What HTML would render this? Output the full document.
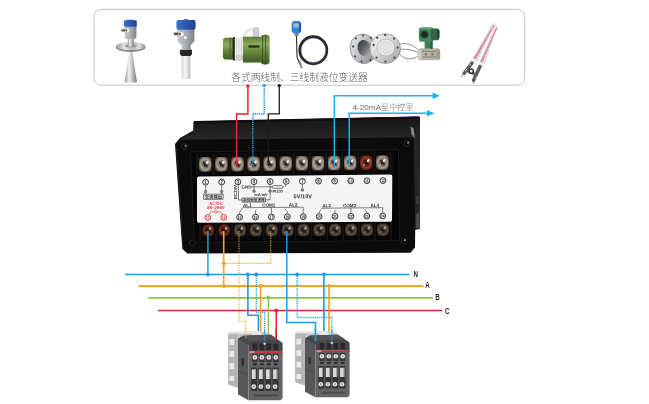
<!DOCTYPE html>
<html lang="zh"><head><meta charset="utf-8"><title>液位变送器接线图</title>
<style>
html,body{margin:0;padding:0;background:#fff;}
body{width:649px;height:404px;overflow:hidden;font-family:"Liberation Sans","Noto Sans CJK SC",sans-serif;}
svg{display:block;will-change:transform;}
text{font-family:"Liberation Sans","Noto Sans CJK SC",sans-serif;}
</style></head><body>
<svg width="649" height="404" viewBox="0 0 649 404">
<defs>
<linearGradient id="silv" x1="0" x2="1" y1="0" y2="0"><stop offset="0" stop-color="#8e9094"/><stop offset="0.35" stop-color="#f2f2f4"/><stop offset="0.6" stop-color="#c4c6ca"/><stop offset="1" stop-color="#77797d"/></linearGradient>
<linearGradient id="hous" x1="0" x2="1" y1="0" y2="0"><stop offset="0" stop-color="#c3c6cb"/><stop offset="0.5" stop-color="#a9adb3"/><stop offset="1" stop-color="#7f8389"/></linearGradient>
<linearGradient id="bluecap" x1="0" x2="1" y1="0" y2="0"><stop offset="0" stop-color="#3f74c8"/><stop offset="0.5" stop-color="#2a58b0"/><stop offset="1" stop-color="#1f4390"/></linearGradient>
<linearGradient id="grn" x1="0" x2="0" y1="0" y2="1"><stop offset="0" stop-color="#5d7f3a"/><stop offset="0.3" stop-color="#8bab5a"/><stop offset="0.6" stop-color="#64883c"/><stop offset="1" stop-color="#3f5c25"/></linearGradient>
<linearGradient id="rod" x1="0" x2="1" y1="0" y2="0"><stop offset="0" stop-color="#d0d0d0"/><stop offset="0.4" stop-color="#fafafa"/><stop offset="1" stop-color="#bdbdbd"/></linearGradient>
<linearGradient id="flA" x1="0" x2="1" y1="0" y2="1"><stop offset="0" stop-color="#f2f2f3"/><stop offset="0.45" stop-color="#bfc1c4"/><stop offset="1" stop-color="#85878b"/></linearGradient>
<linearGradient id="flB" x1="0" x2="1" y1="0" y2="1"><stop offset="0" stop-color="#f6f6f7"/><stop offset="0.5" stop-color="#d2d4d6"/><stop offset="1" stop-color="#9c9ea2"/></linearGradient>
<linearGradient id="flD" x1="0" x2="0.6" y1="0" y2="1"><stop offset="0" stop-color="#2e3034"/><stop offset="0.6" stop-color="#66686c"/><stop offset="1" stop-color="#a4a6aa"/></linearGradient>
<linearGradient id="flgt" x1="0" x2="1" y1="0" y2="0"><stop offset="0" stop-color="#9a9ca0"/><stop offset="0.3" stop-color="#e6e7e8"/><stop offset="0.55" stop-color="#b4b6b9"/><stop offset="0.8" stop-color="#dcdddf"/><stop offset="1" stop-color="#8e9094"/></linearGradient>
<radialGradient id="fl1" cx="0.4" cy="0.4" r="0.7"><stop offset="0" stop-color="#f4f4f4"/><stop offset="0.6" stop-color="#bfc1c4"/><stop offset="1" stop-color="#7d7f83"/></radialGradient>
<radialGradient id="term" cx="0.5" cy="0.5" r="0.62"><stop offset="0" stop-color="#3a322c"/><stop offset="0.3" stop-color="#6a6058"/><stop offset="0.6" stop-color="#aaa296"/><stop offset="0.82" stop-color="#6a5e54"/><stop offset="1" stop-color="#2a221e"/></radialGradient>
<radialGradient id="termd" cx="0.5" cy="0.5" r="0.62"><stop offset="0" stop-color="#1e1814"/><stop offset="0.3" stop-color="#342c26"/><stop offset="0.6" stop-color="#5a4e44"/><stop offset="0.8" stop-color="#342a24"/><stop offset="1" stop-color="#140f0c"/></radialGradient>
<radialGradient id="termr" cx="0.5" cy="0.5" r="0.62"><stop offset="0" stop-color="#3a140e"/><stop offset="0.35" stop-color="#782014"/><stop offset="0.6" stop-color="#964034"/><stop offset="0.8" stop-color="#501a12"/><stop offset="1" stop-color="#200c08"/></radialGradient>
<radialGradient id="termrd" cx="0.5" cy="0.5" r="0.62"><stop offset="0" stop-color="#240e0a"/><stop offset="0.35" stop-color="#521610"/><stop offset="0.6" stop-color="#742c22"/><stop offset="0.8" stop-color="#34100c"/><stop offset="1" stop-color="#160806"/></radialGradient>
<linearGradient id="topface" x1="0" x2="0" y1="0" y2="1"><stop offset="0" stop-color="#161616"/><stop offset="1" stop-color="#262626"/></linearGradient>
</defs>

<rect x="94" y="9.3" width="430.6" height="75.9" rx="7" ry="7" fill="#fff" stroke="#c4c4c4" stroke-width="1"/>
<g id="s1">
<path d="M129.2,50 L132.4,50 Q134,66 136.9,81 Q137,82.6 135.4,82.6 L126,82.6 Q124.4,82.6 124.6,81 Q127.6,66 129.2,50 Z" fill="url(#silv)"/>
<ellipse cx="130.7" cy="47.2" rx="14.9" ry="4.7" fill="#7e8084"/>
<ellipse cx="130.7" cy="46.2" rx="14.7" ry="4.1" fill="url(#flgt)"/>
<ellipse cx="130.7" cy="46" rx="6" ry="1.6" fill="#9a9ca0"/>
<rect x="127.8" y="38" width="6" height="8.4" fill="url(#silv)"/>
<path d="M124.8,26 H136.4 V37 L135,39 H126 L124.8,37.6 Z" fill="url(#hous)"/>
<rect x="126.4" y="19.7" width="7.8" height="1.4" rx="0.6" fill="#2c56a8"/>
<rect x="123.8" y="20.2" width="13" height="6.6" rx="1.4" fill="url(#bluecap)"/>
<rect x="121.4" y="29.2" width="3.8" height="2.4" rx="0.6" fill="#6b5238"/>
<circle cx="127.6" cy="30.6" r="1.8" fill="#f4f4f4"/><circle cx="126.4" cy="30.4" r="0.8" fill="#3a3a3a"/>
</g>
<g id="s2">
<rect x="181.6" y="54.6" width="8.8" height="24.4" rx="1.2" fill="url(#rod)"/>
<path d="M179.9,49.8 H192 V54 L190.6,56 H181.4 L179.9,54 Z" fill="#26282a"/>
<rect x="181.6" y="44" width="9" height="6" fill="url(#hous)"/>
<path d="M177.6,29 L194.4,29 L194.4,41 L191,45 L181.4,45 L177.6,41.6 Z" fill="url(#hous)"/>
<rect x="183.4" y="19.3" width="5.2" height="1.6" rx="0.6" fill="#2c56a8"/>
<rect x="176.4" y="20" width="19.2" height="9.8" rx="2" fill="url(#bluecap)"/>
<rect x="173.8" y="32.6" width="4.6" height="2.6" rx="0.6" fill="#6b5238"/>
<circle cx="181.6" cy="34.2" r="2.1" fill="#f4f4f4"/><circle cx="180" cy="34" r="0.9" fill="#3a3a3a"/>
<circle cx="185.4" cy="37.6" r="1.5" fill="#f0f0f0"/>
</g>
<g id="s3">
<path d="M242.4,40 C245.5,30.5 250,28.4 254.6,30.4" fill="none" stroke="#c9c9c9" stroke-width="2.6"/>
<path d="M242.4,40 C245.5,30.5 250,28.4 254.6,30.4" fill="none" stroke="#f4f4f4" stroke-width="1.6"/>
<path d="M253.2,29 L254.2,27.6 H257.8 L258.8,29 V36.4 H253.2 Z" fill="#cfcfcf" stroke="#a8a8a8" stroke-width="0.4"/>
<rect x="222.9" y="37.7" width="10.5" height="21.8" rx="3" fill="url(#grn)"/>
<rect x="229.4" y="37.4" width="2" height="22.6" fill="#4a6a2c" opacity="0.7"/>
<rect x="232.6" y="37.2" width="2.6" height="23.2" fill="#1c2216"/>
<rect x="234.8" y="37.4" width="9" height="23.4" rx="1.8" fill="#f3f3f3"/>
<path d="M236.6,38 V60.4 M238.9,38 V60.4 M241.2,38 V60.4" stroke="#bdbdbd" stroke-width="0.7"/>
<rect x="234.8" y="55" width="9" height="5.8" rx="1.8" fill="#bdbdbd" opacity="0.5"/>
<rect x="242.9" y="36.7" width="20" height="25.8" fill="url(#grn)"/>
<rect x="260.8" y="34.8" width="8.8" height="29.7" rx="3.4" fill="url(#grn)"/>
<path d="M262.6,35.4 V64 M265.6,35 V64.2" stroke="#2c4218" stroke-width="0.9" opacity="0.75"/>
<rect x="248.4" y="45.3" width="11.2" height="2.4" fill="#2a381c"/>
</g>
<g id="s4">
<ellipse cx="313.3" cy="50.2" rx="13.6" ry="13.6" fill="none" stroke="#23262e" stroke-width="2.7"/>
<ellipse cx="313.6" cy="50.6" rx="12.4" ry="12.6" fill="none" stroke="#5a5e68" stroke-width="0.5"/>
<path d="M296.4,33 L297,57 L300.6,66" fill="none" stroke="#2a2c32" stroke-width="1.1"/>
<path d="M299.4,60.6 L301.8,68.4" stroke="#8a8c90" stroke-width="1.9"/>
<path d="M294.2,33.2 h4.6 v2.6 h-4.6 z" fill="#8a8c90"/>
<path d="M293.4,21 H299.6 L301.2,23.4 V31 L299.4,33.6 H293.6 L291.6,31 V23.4 Z" fill="#2f86d8"/>
<path d="M298.8,21.4 L300.9,23.6 V30.8 L299,33.2 Z" fill="#1c5ca8"/>
<rect x="293.4" y="23.4" width="5.4" height="4.2" rx="0.5" fill="#a9bccb"/>
</g>
<g id="s5">
<path d="M398,45.5 C404,41.5 412,44 418.5,50 M399,53 C404,61 414,60 419,55 M397,50 C405,48 412,50 418.5,52.5" fill="none" stroke="#8e9094" stroke-width="1"/>
<ellipse cx="363.3" cy="48.8" rx="13.2" ry="14.9" fill="url(#flA)" stroke="#86888c" stroke-width="0.7" transform="rotate(-14 363.3 48.8)"/>
<ellipse cx="364.2" cy="48.2" rx="6.6" ry="8.4" fill="url(#flD)" transform="rotate(-14 364.2 48.2)"/>
<ellipse cx="353.2" cy="46.5" rx="0.9" ry="1.2" fill="#3e4044"/>
<ellipse cx="355.8" cy="38.4" rx="0.9" ry="1.2" fill="#3e4044"/>
<ellipse cx="363" cy="35.6" rx="0.9" ry="1.2" fill="#3e4044"/>
<ellipse cx="355.2" cy="56.4" rx="0.9" ry="1.2" fill="#3e4044"/>
<ellipse cx="361.6" cy="61.4" rx="0.9" ry="1.2" fill="#3e4044"/>
<ellipse cx="370.4" cy="60" rx="0.9" ry="1.2" fill="#3e4044"/>
<ellipse cx="371" cy="37.8" rx="0.9" ry="1.2" fill="#3e4044"/>
<ellipse cx="385.2" cy="48.7" rx="15.3" ry="14.9" fill="url(#flB)" stroke="#8a8c90" stroke-width="0.7"/>
<ellipse cx="385.9" cy="47.6" rx="8.8" ry="8.5" fill="#ededee" stroke="#a9abae" stroke-width="0.7"/>
<ellipse cx="385.9" cy="47.6" rx="6.4" ry="6.2" fill="#e2e3e4" stroke="#c4c6c8" stroke-width="0.5"/>
<circle cx="373.6" cy="45" r="1.15" fill="#47494c"/>
<circle cx="377.2" cy="37.8" r="1.15" fill="#47494c"/>
<circle cx="385.2" cy="35" r="1.15" fill="#47494c"/>
<circle cx="394" cy="38.6" r="1.15" fill="#47494c"/>
<circle cx="397.6" cy="47.6" r="1.15" fill="#47494c"/>
<circle cx="394.4" cy="57.6" r="1.15" fill="#47494c"/>
<circle cx="385.4" cy="61.6" r="1.15" fill="#47494c"/>
<circle cx="376.4" cy="57.6" r="1.15" fill="#47494c"/>
<rect x="418.6" y="48.2" width="20.6" height="12" rx="1.5" fill="#b9b2a4"/>
<rect x="417.6" y="49.4" width="4" height="9.8" rx="1" fill="#d0cbc0"/>
<rect x="436.2" y="49.4" width="4" height="9.8" rx="1" fill="#a39c8e"/>
<path d="M422,51.4 H436 M422,57 H436" stroke="#857e70" stroke-width="0.9"/>
<circle cx="426" cy="54.2" r="1.2" fill="#7a7468"/><circle cx="432.4" cy="54.2" r="1.2" fill="#7a7468"/>
<rect x="424.6" y="40" width="8" height="8.6" fill="#43805a"/>
<rect x="430.4" y="41" width="2.2" height="7.6" fill="#2e5e40"/>
<rect x="418.8" y="27.2" width="15" height="14.6" rx="3.4" fill="#468a5c"/>
<rect x="430.8" y="28.6" width="8.6" height="11.6" rx="2.2" fill="#2f6644"/>
<rect x="436.8" y="30" width="2.6" height="8" rx="1" fill="#1f4430"/>
<circle cx="424.4" cy="34.4" r="4.4" fill="#2c5c40"/>
<circle cx="424.4" cy="34.4" r="2.9" fill="#15291f"/>
<path d="M420.6,28.6 H431" stroke="#7ab08a" stroke-width="0.9"/>
</g>
<g id="s6">
<polygon points="492.6,23 495.2,23.8 476.4,63.6 471,61.4" fill="#d7e1e1"/>
<polygon points="493.6,25 494.6,25.4 475,60.5 472.8,59.6" fill="#e2708a"/>
<polygon points="495.6,25 498,26 483.6,67.2 478.4,65.2" fill="#d7e1e1"/>
<polygon points="496.4,27.5 497.4,27.9 481.8,63.8 479.8,63" fill="#e2708a"/>
<path d="M493,28 L473.5,61 M496.6,30 L480.6,64.6" stroke="#fbfbfb" stroke-width="0.9" stroke-dasharray="0.9 1.6" fill="none"/>
<polygon points="472.4,58 477.4,60.2 476,64.6 470.6,62.4" fill="#e9eeee"/>
<polygon points="479.6,61.6 484.8,63.6 483.4,68 478,66" fill="#e9eeee"/>
<path d="M472,63 L464,73.5 M480,66.5 L473.5,80.5" stroke="#54595c" stroke-width="3.4" stroke-linecap="round"/>
<path d="M466,70 L477.5,75.5" stroke="#63686b" stroke-width="3"/>
<circle cx="471.2" cy="71.2" r="2.1" fill="#fafafa" stroke="#2e3234" stroke-width="1.5"/>
<path d="M465,71 l2.2,-1.8 M475,78.6 l2,-1.8 M469.5,65.5 l1.6,-1.2" stroke="#d0d4d6" stroke-width="0.9"/>
<path d="M461,76.6 l1.4,-1.2 M473.4,83.6 l0.8,-1.2" stroke="#3a58c0" stroke-width="1"/>
</g>
<text x="231.2" y="81" font-size="9.75" font-weight="300" fill="#5a5a5a">各式两线制、三线制液位变送器</text>
<g id="meter">
<path d="M194.6,121 Q193.4,121.2 193.4,123 L193.3,130.4 L180,138 L175,144 L182.3,248.8 L187.3,253.6 L410.5,252.8 L415,247.6 L415.2,229.5 L419.6,229 L420,117.4 Q420,116.3 418.8,116.4 Z" fill="#0b0b0b"/>
<path d="M194.6,121.4 L418.6,116.6 L419.4,118 L413,136.6 L181,139 L193.5,130.6 Z" fill="url(#topface)"/>
<path d="M194,121.6 L418,116.8 L418,118.6 L194,123.6 Z" fill="#0e0e0e"/>
<path d="M413.6,136 L419.6,118.5 L419.6,229 L415.2,229.6 Z" fill="#242424"/>
<path d="M410.6,126.5 L413.6,128.6 L414.8,138.4 L411.6,134.4 Z" fill="#8a8a8a"/>
<rect x="415.8" y="213.5" width="3.4" height="14.5" fill="#4a4a4a"/>
<rect x="415.8" y="196" width="3.4" height="8" fill="#383838"/>
<path d="M181,139.2 L413,136.8" stroke="#2e2e2e" stroke-width="0.9"/>
<path d="M176.2,145 L183.2,248" stroke="#1e1e1e" stroke-width="1"/>
<path d="M190.5,151.8 L398.5,149.6 L399.5,240.6 L194.5,242.4 Z" fill="#050505" stroke="#1f1f1f" stroke-width="0.8"/>
<circle cx="184.4" cy="146.4" r="2.8" fill="#000" stroke="#303030" stroke-width="0.9"/>
<circle cx="185.6" cy="145.7" r="0.9" fill="#b8b8b8"/>
<circle cx="406.9" cy="143.4" r="2.8" fill="#000" stroke="#303030" stroke-width="0.9"/>
<circle cx="408.1" cy="142.7" r="0.9" fill="#b8b8b8"/>
<circle cx="192.4" cy="242.8" r="2.8" fill="#000" stroke="#303030" stroke-width="0.9"/>
<circle cx="403.6" cy="240.9" r="2.8" fill="#000" stroke="#303030" stroke-width="0.9"/>
<circle cx="404.8" cy="240.2" r="0.9" fill="#b8b8b8"/>
<path d="M195.5,153 L394,150.8 L394,173.5 L195.5,175.5 Z" fill="#0a0a0a"/>
<rect x="199.0" y="157.1" width="12.6" height="14.6" rx="2.2" fill="url(#term)"/>
<path d="M202.9,161.8 L207.7,167.0 M207.5,162.2 L203.1,166.8" stroke="#1c1612" stroke-width="1.3" opacity="0.8"/>
<ellipse cx="207.2" cy="162.5" rx="1.3" ry="1.7" fill="#fff" opacity="0.85" transform="rotate(35 207.2 162.5)"/>
<ellipse cx="203.1" cy="166.6" rx="0.9" ry="1.3" fill="#e8dccc" opacity="0.55" transform="rotate(35 203.1 166.6)"/>
<rect x="215.1" y="156.9" width="12.6" height="14.6" rx="2.2" fill="url(#term)"/>
<path d="M219.0,161.6 L223.8,166.8 M223.6,162.0 L219.2,166.6" stroke="#1c1612" stroke-width="1.3" opacity="0.8"/>
<ellipse cx="223.3" cy="162.3" rx="1.3" ry="1.7" fill="#fff" opacity="0.85" transform="rotate(35 223.3 162.3)"/>
<ellipse cx="219.2" cy="166.4" rx="0.9" ry="1.3" fill="#e8dccc" opacity="0.55" transform="rotate(35 219.2 166.4)"/>
<rect x="231.2" y="156.8" width="12.6" height="14.6" rx="2.2" fill="url(#term)"/>
<path d="M235.1,161.5 L239.9,166.7 M239.7,161.9 L235.3,166.5" stroke="#1c1612" stroke-width="1.3" opacity="0.8"/>
<ellipse cx="239.4" cy="162.2" rx="1.3" ry="1.7" fill="#fff" opacity="0.85" transform="rotate(35 239.4 162.2)"/>
<ellipse cx="235.3" cy="166.3" rx="0.9" ry="1.3" fill="#e8dccc" opacity="0.55" transform="rotate(35 235.3 166.3)"/>
<rect x="247.3" y="156.6" width="12.6" height="14.6" rx="2.2" fill="url(#term)"/>
<path d="M251.2,161.3 L256.0,166.5 M255.8,161.7 L251.4,166.3" stroke="#1c1612" stroke-width="1.3" opacity="0.8"/>
<ellipse cx="255.5" cy="162.0" rx="1.3" ry="1.7" fill="#fff" opacity="0.85" transform="rotate(35 255.5 162.0)"/>
<ellipse cx="251.4" cy="166.1" rx="0.9" ry="1.3" fill="#e8dccc" opacity="0.55" transform="rotate(35 251.4 166.1)"/>
<rect x="263.4" y="156.4" width="12.6" height="14.6" rx="2.2" fill="url(#term)"/>
<path d="M267.3,161.1 L272.1,166.3 M271.9,161.5 L267.5,166.1" stroke="#1c1612" stroke-width="1.3" opacity="0.8"/>
<ellipse cx="271.6" cy="161.8" rx="1.3" ry="1.7" fill="#fff" opacity="0.85" transform="rotate(35 271.6 161.8)"/>
<ellipse cx="267.5" cy="165.9" rx="0.9" ry="1.3" fill="#e8dccc" opacity="0.55" transform="rotate(35 267.5 165.9)"/>
<rect x="279.5" y="156.2" width="12.6" height="14.6" rx="2.2" fill="url(#term)"/>
<path d="M283.4,160.9 L288.2,166.1 M288.0,161.3 L283.6,165.9" stroke="#1c1612" stroke-width="1.3" opacity="0.8"/>
<ellipse cx="287.7" cy="161.6" rx="1.3" ry="1.7" fill="#fff" opacity="0.85" transform="rotate(35 287.7 161.6)"/>
<ellipse cx="283.6" cy="165.7" rx="0.9" ry="1.3" fill="#e8dccc" opacity="0.55" transform="rotate(35 283.6 165.7)"/>
<rect x="295.6" y="156.0" width="12.6" height="14.6" rx="2.2" fill="url(#term)"/>
<path d="M299.5,160.7 L304.3,165.9 M304.1,161.1 L299.7,165.7" stroke="#1c1612" stroke-width="1.3" opacity="0.8"/>
<ellipse cx="303.8" cy="161.4" rx="1.3" ry="1.7" fill="#fff" opacity="0.85" transform="rotate(35 303.8 161.4)"/>
<ellipse cx="299.7" cy="165.5" rx="0.9" ry="1.3" fill="#e8dccc" opacity="0.55" transform="rotate(35 299.7 165.5)"/>
<rect x="311.7" y="155.9" width="12.6" height="14.6" rx="2.2" fill="url(#term)"/>
<path d="M315.6,160.6 L320.4,165.8 M320.2,161.0 L315.8,165.6" stroke="#1c1612" stroke-width="1.3" opacity="0.8"/>
<ellipse cx="319.9" cy="161.3" rx="1.3" ry="1.7" fill="#fff" opacity="0.85" transform="rotate(35 319.9 161.3)"/>
<ellipse cx="315.8" cy="165.4" rx="0.9" ry="1.3" fill="#e8dccc" opacity="0.55" transform="rotate(35 315.8 165.4)"/>
<rect x="327.8" y="155.7" width="12.6" height="14.6" rx="2.2" fill="url(#term)"/>
<path d="M331.7,160.4 L336.5,165.6 M336.3,160.8 L331.9,165.4" stroke="#1c1612" stroke-width="1.3" opacity="0.8"/>
<ellipse cx="336.0" cy="161.1" rx="1.3" ry="1.7" fill="#fff" opacity="0.85" transform="rotate(35 336.0 161.1)"/>
<ellipse cx="331.9" cy="165.2" rx="0.9" ry="1.3" fill="#e8dccc" opacity="0.55" transform="rotate(35 331.9 165.2)"/>
<rect x="343.9" y="155.5" width="12.6" height="14.6" rx="2.2" fill="url(#term)"/>
<path d="M347.8,160.2 L352.6,165.4 M352.4,160.6 L348.0,165.2" stroke="#1c1612" stroke-width="1.3" opacity="0.8"/>
<ellipse cx="352.1" cy="160.9" rx="1.3" ry="1.7" fill="#fff" opacity="0.85" transform="rotate(35 352.1 160.9)"/>
<ellipse cx="348.0" cy="165.0" rx="0.9" ry="1.3" fill="#e8dccc" opacity="0.55" transform="rotate(35 348.0 165.0)"/>
<rect x="360.0" y="155.3" width="12.6" height="14.6" rx="2.2" fill="url(#termr)"/>
<path d="M363.9,160.0 L368.7,165.2 M368.5,160.4 L364.1,165.0" stroke="#1c1612" stroke-width="1.3" opacity="0.8"/>
<ellipse cx="368.2" cy="160.7" rx="1.3" ry="1.7" fill="#fff" opacity="0.85" transform="rotate(35 368.2 160.7)"/>
<ellipse cx="364.1" cy="164.8" rx="0.9" ry="1.3" fill="#e8dccc" opacity="0.55" transform="rotate(35 364.1 164.8)"/>
<rect x="376.1" y="155.2" width="12.6" height="14.6" rx="2.2" fill="url(#term)"/>
<path d="M380.0,159.9 L384.8,165.1 M384.6,160.3 L380.2,164.9" stroke="#1c1612" stroke-width="1.3" opacity="0.8"/>
<ellipse cx="384.3" cy="160.6" rx="1.3" ry="1.7" fill="#fff" opacity="0.85" transform="rotate(35 384.3 160.6)"/>
<ellipse cx="380.2" cy="164.7" rx="0.9" ry="1.3" fill="#e8dccc" opacity="0.55" transform="rotate(35 380.2 164.7)"/>
<rect x="196.2" y="154.2" width="2" height="20.5" fill="#151515"/>
<rect x="212.3" y="154.0" width="2" height="20.5" fill="#151515"/>
<rect x="228.4" y="153.8" width="2" height="20.5" fill="#151515"/>
<rect x="244.5" y="153.7" width="2" height="20.5" fill="#151515"/>
<rect x="260.6" y="153.5" width="2" height="20.5" fill="#151515"/>
<rect x="276.7" y="153.3" width="2" height="20.5" fill="#151515"/>
<rect x="292.8" y="153.1" width="2" height="20.5" fill="#151515"/>
<rect x="308.9" y="153.0" width="2" height="20.5" fill="#151515"/>
<rect x="325.0" y="152.8" width="2" height="20.5" fill="#151515"/>
<rect x="341.1" y="152.6" width="2" height="20.5" fill="#151515"/>
<rect x="357.2" y="152.4" width="2" height="20.5" fill="#151515"/>
<rect x="373.3" y="152.2" width="2" height="20.5" fill="#151515"/>
<rect x="389.4" y="152.1" width="2" height="20.5" fill="#151515"/>
<rect x="202.1" y="224.2" width="12.2" height="12.4" rx="2.2" fill="url(#termrd)"/>
<path d="M205.8,227.8 L210.6,233.0 M210.4,228.2 L206.0,232.8" stroke="#1c1612" stroke-width="1.3" opacity="0.8"/>
<ellipse cx="210.1" cy="228.5" rx="1.3" ry="1.7" fill="#fff" opacity="0.5" transform="rotate(35 210.1 228.5)"/>
<ellipse cx="206.0" cy="232.6" rx="0.9" ry="1.3" fill="#e8dccc" opacity="0.35" transform="rotate(35 206.0 232.6)"/>
<rect x="218.0" y="224.1" width="12.2" height="12.4" rx="2.2" fill="url(#termrd)"/>
<path d="M221.7,227.7 L226.5,232.9 M226.3,228.1 L221.9,232.7" stroke="#1c1612" stroke-width="1.3" opacity="0.8"/>
<ellipse cx="226.0" cy="228.4" rx="1.3" ry="1.7" fill="#fff" opacity="0.5" transform="rotate(35 226.0 228.4)"/>
<ellipse cx="221.9" cy="232.5" rx="0.9" ry="1.3" fill="#e8dccc" opacity="0.35" transform="rotate(35 221.9 232.5)"/>
<rect x="233.9" y="224.1" width="12.2" height="12.4" rx="2.2" fill="url(#termd)"/>
<path d="M237.6,227.7 L242.4,232.9 M242.2,228.1 L237.8,232.7" stroke="#1c1612" stroke-width="1.3" opacity="0.8"/>
<ellipse cx="241.9" cy="228.4" rx="1.3" ry="1.7" fill="#fff" opacity="0.5" transform="rotate(35 241.9 228.4)"/>
<ellipse cx="237.8" cy="232.5" rx="0.9" ry="1.3" fill="#e8dccc" opacity="0.35" transform="rotate(35 237.8 232.5)"/>
<rect x="249.7" y="224.0" width="12.2" height="12.4" rx="2.2" fill="url(#termd)"/>
<path d="M253.4,227.6 L258.2,232.8 M258.0,228.0 L253.6,232.6" stroke="#1c1612" stroke-width="1.3" opacity="0.8"/>
<ellipse cx="257.7" cy="228.3" rx="1.3" ry="1.7" fill="#fff" opacity="0.5" transform="rotate(35 257.7 228.3)"/>
<ellipse cx="253.6" cy="232.4" rx="0.9" ry="1.3" fill="#e8dccc" opacity="0.35" transform="rotate(35 253.6 232.4)"/>
<rect x="265.6" y="224.0" width="12.2" height="12.4" rx="2.2" fill="url(#termd)"/>
<path d="M269.3,227.6 L274.1,232.8 M273.9,228.0 L269.5,232.6" stroke="#1c1612" stroke-width="1.3" opacity="0.8"/>
<ellipse cx="273.6" cy="228.3" rx="1.3" ry="1.7" fill="#fff" opacity="0.5" transform="rotate(35 273.6 228.3)"/>
<ellipse cx="269.5" cy="232.4" rx="0.9" ry="1.3" fill="#e8dccc" opacity="0.35" transform="rotate(35 269.5 232.4)"/>
<rect x="281.5" y="223.9" width="12.2" height="12.4" rx="2.2" fill="url(#termd)"/>
<path d="M285.2,227.5 L290.0,232.7 M289.8,227.9 L285.4,232.5" stroke="#1c1612" stroke-width="1.3" opacity="0.8"/>
<ellipse cx="289.5" cy="228.2" rx="1.3" ry="1.7" fill="#fff" opacity="0.5" transform="rotate(35 289.5 228.2)"/>
<ellipse cx="285.4" cy="232.3" rx="0.9" ry="1.3" fill="#e8dccc" opacity="0.35" transform="rotate(35 285.4 232.3)"/>
<rect x="297.4" y="223.9" width="12.2" height="12.4" rx="2.2" fill="url(#termd)"/>
<path d="M301.1,227.5 L305.9,232.7 M305.7,227.9 L301.3,232.5" stroke="#1c1612" stroke-width="1.3" opacity="0.8"/>
<ellipse cx="305.4" cy="228.2" rx="1.3" ry="1.7" fill="#fff" opacity="0.5" transform="rotate(35 305.4 228.2)"/>
<ellipse cx="301.3" cy="232.3" rx="0.9" ry="1.3" fill="#e8dccc" opacity="0.35" transform="rotate(35 301.3 232.3)"/>
<rect x="313.3" y="223.8" width="12.2" height="12.4" rx="2.2" fill="url(#termd)"/>
<path d="M317.0,227.4 L321.8,232.6 M321.6,227.8 L317.2,232.4" stroke="#1c1612" stroke-width="1.3" opacity="0.8"/>
<ellipse cx="321.3" cy="228.1" rx="1.3" ry="1.7" fill="#fff" opacity="0.5" transform="rotate(35 321.3 228.1)"/>
<ellipse cx="317.2" cy="232.2" rx="0.9" ry="1.3" fill="#e8dccc" opacity="0.35" transform="rotate(35 317.2 232.2)"/>
<rect x="329.1" y="223.8" width="12.2" height="12.4" rx="2.2" fill="url(#termd)"/>
<path d="M332.8,227.4 L337.6,232.6 M337.4,227.8 L333.0,232.4" stroke="#1c1612" stroke-width="1.3" opacity="0.8"/>
<ellipse cx="337.1" cy="228.1" rx="1.3" ry="1.7" fill="#fff" opacity="0.5" transform="rotate(35 337.1 228.1)"/>
<ellipse cx="333.0" cy="232.2" rx="0.9" ry="1.3" fill="#e8dccc" opacity="0.35" transform="rotate(35 333.0 232.2)"/>
<rect x="345.0" y="223.7" width="12.2" height="12.4" rx="2.2" fill="url(#termd)"/>
<path d="M348.7,227.3 L353.5,232.5 M353.3,227.7 L348.9,232.3" stroke="#1c1612" stroke-width="1.3" opacity="0.8"/>
<ellipse cx="353.0" cy="228.0" rx="1.3" ry="1.7" fill="#fff" opacity="0.5" transform="rotate(35 353.0 228.0)"/>
<ellipse cx="348.9" cy="232.1" rx="0.9" ry="1.3" fill="#e8dccc" opacity="0.35" transform="rotate(35 348.9 232.1)"/>
<rect x="360.9" y="223.7" width="12.2" height="12.4" rx="2.2" fill="url(#termd)"/>
<path d="M364.6,227.3 L369.4,232.5 M369.2,227.7 L364.8,232.3" stroke="#1c1612" stroke-width="1.3" opacity="0.8"/>
<ellipse cx="368.9" cy="228.0" rx="1.3" ry="1.7" fill="#fff" opacity="0.5" transform="rotate(35 368.9 228.0)"/>
<ellipse cx="364.8" cy="232.1" rx="0.9" ry="1.3" fill="#e8dccc" opacity="0.35" transform="rotate(35 364.8 232.1)"/>
<rect x="376.8" y="223.6" width="12.2" height="12.4" rx="2.2" fill="url(#termd)"/>
<path d="M380.5,227.2 L385.3,232.4 M385.1,227.6 L380.7,232.2" stroke="#1c1612" stroke-width="1.3" opacity="0.8"/>
<ellipse cx="384.8" cy="227.9" rx="1.3" ry="1.7" fill="#fff" opacity="0.5" transform="rotate(35 384.8 227.9)"/>
<ellipse cx="380.7" cy="232.0" rx="0.9" ry="1.3" fill="#e8dccc" opacity="0.35" transform="rotate(35 380.7 232.0)"/>
<rect x="199.3" y="223.2" width="2" height="17" fill="#141414"/>
<rect x="215.2" y="223.1" width="2" height="17" fill="#141414"/>
<rect x="231.1" y="223.1" width="2" height="17" fill="#141414"/>
<rect x="246.9" y="223.0" width="2" height="17" fill="#141414"/>
<rect x="262.8" y="223.0" width="2" height="17" fill="#141414"/>
<rect x="278.7" y="223.0" width="2" height="17" fill="#141414"/>
<rect x="294.6" y="222.9" width="2" height="17" fill="#141414"/>
<rect x="310.5" y="222.9" width="2" height="17" fill="#141414"/>
<rect x="326.3" y="222.8" width="2" height="17" fill="#141414"/>
<rect x="342.2" y="222.8" width="2" height="17" fill="#141414"/>
<rect x="358.1" y="222.7" width="2" height="17" fill="#141414"/>
<rect x="374.0" y="222.7" width="2" height="17" fill="#141414"/>
<rect x="389.9" y="222.6" width="2" height="17" fill="#141414"/>
<path d="M199,176.6 L390.4,174.5 Q392.3,174.5 392.3,176.4 L392,220 Q392,221.8 390.2,221.8 L199,222.8 Q197,222.8 197,221 V178.4 Q197,176.6 199,176.6 Z" fill="#f5f5f5"/>
<g transform="translate(0,1.72) skewY(-0.5)">
<circle cx="205.6" cy="182.2" r="2.9" fill="none" stroke="#2e2e2e" stroke-width="0.95"/>
<text x="205.6" y="183.8" font-size="5" font-weight="700" text-anchor="middle" fill="#2e2e2e" textLength="2.5" lengthAdjust="spacingAndGlyphs">1</text>
<circle cx="221.7" cy="182.2" r="2.9" fill="none" stroke="#2e2e2e" stroke-width="0.95"/>
<text x="221.7" y="183.8" font-size="5" font-weight="700" text-anchor="middle" fill="#2e2e2e" textLength="2.5" lengthAdjust="spacingAndGlyphs">2</text>
<circle cx="237.9" cy="182.2" r="2.9" fill="none" stroke="#2e2e2e" stroke-width="0.95"/>
<text x="237.9" y="183.8" font-size="5" font-weight="700" text-anchor="middle" fill="#2e2e2e" textLength="2.5" lengthAdjust="spacingAndGlyphs">3</text>
<circle cx="254.0" cy="182.2" r="2.9" fill="none" stroke="#2e2e2e" stroke-width="0.95"/>
<text x="254.0" y="183.8" font-size="5" font-weight="700" text-anchor="middle" fill="#2e2e2e" textLength="2.5" lengthAdjust="spacingAndGlyphs">4</text>
<circle cx="270.1" cy="182.2" r="2.9" fill="none" stroke="#2e2e2e" stroke-width="0.95"/>
<text x="270.1" y="183.8" font-size="5" font-weight="700" text-anchor="middle" fill="#2e2e2e" textLength="2.5" lengthAdjust="spacingAndGlyphs">5</text>
<circle cx="286.2" cy="182.2" r="2.9" fill="none" stroke="#2e2e2e" stroke-width="0.95"/>
<text x="286.2" y="183.8" font-size="5" font-weight="700" text-anchor="middle" fill="#2e2e2e" textLength="2.5" lengthAdjust="spacingAndGlyphs">6</text>
<circle cx="302.4" cy="182.2" r="2.9" fill="none" stroke="#2e2e2e" stroke-width="0.95"/>
<text x="302.4" y="183.8" font-size="5" font-weight="700" text-anchor="middle" fill="#2e2e2e" textLength="2.5" lengthAdjust="spacingAndGlyphs">7</text>
<circle cx="318.5" cy="182.2" r="2.9" fill="none" stroke="#2e2e2e" stroke-width="0.95"/>
<text x="318.5" y="183.8" font-size="5" font-weight="700" text-anchor="middle" fill="#2e2e2e" textLength="2.5" lengthAdjust="spacingAndGlyphs">8</text>
<circle cx="334.6" cy="182.2" r="2.9" fill="none" stroke="#2e2e2e" stroke-width="0.95"/>
<text x="334.6" y="183.8" font-size="5" font-weight="700" text-anchor="middle" fill="#2e2e2e" textLength="2.5" lengthAdjust="spacingAndGlyphs">9</text>
<circle cx="350.8" cy="182.2" r="2.9" fill="none" stroke="#2e2e2e" stroke-width="0.95"/>
<text x="350.8" y="183.8" font-size="4.2" font-weight="700" text-anchor="middle" fill="#2e2e2e" textLength="3.7" lengthAdjust="spacingAndGlyphs">10</text>
<circle cx="366.9" cy="182.2" r="2.9" fill="none" stroke="#2e2e2e" stroke-width="0.95"/>
<text x="366.9" y="183.8" font-size="4.2" font-weight="700" text-anchor="middle" fill="#2e2e2e" textLength="3.7" lengthAdjust="spacingAndGlyphs">11</text>
<circle cx="383.0" cy="182.2" r="2.9" fill="none" stroke="#2e2e2e" stroke-width="0.95"/>
<text x="383.0" y="183.8" font-size="4.2" font-weight="700" text-anchor="middle" fill="#2e2e2e" textLength="3.7" lengthAdjust="spacingAndGlyphs">12</text>
<circle cx="207.8" cy="217.6" r="2.9" fill="none" stroke="#dd3b3b" stroke-width="0.95"/>
<text x="207.8" y="219.2" font-size="4.2" font-weight="700" text-anchor="middle" fill="#dd3b3b" textLength="3.7" lengthAdjust="spacingAndGlyphs">13</text>
<circle cx="223.7" cy="217.6" r="2.9" fill="none" stroke="#dd3b3b" stroke-width="0.95"/>
<text x="223.7" y="219.2" font-size="4.2" font-weight="700" text-anchor="middle" fill="#dd3b3b" textLength="3.7" lengthAdjust="spacingAndGlyphs">14</text>
<circle cx="239.6" cy="217.6" r="2.9" fill="none" stroke="#2e2e2e" stroke-width="0.95"/>
<text x="239.6" y="219.2" font-size="4.2" font-weight="700" text-anchor="middle" fill="#2e2e2e" textLength="3.7" lengthAdjust="spacingAndGlyphs">15</text>
<circle cx="255.5" cy="217.6" r="2.9" fill="none" stroke="#2e2e2e" stroke-width="0.95"/>
<text x="255.5" y="219.2" font-size="4.2" font-weight="700" text-anchor="middle" fill="#2e2e2e" textLength="3.7" lengthAdjust="spacingAndGlyphs">16</text>
<circle cx="271.4" cy="217.6" r="2.9" fill="none" stroke="#2e2e2e" stroke-width="0.95"/>
<text x="271.4" y="219.2" font-size="4.2" font-weight="700" text-anchor="middle" fill="#2e2e2e" textLength="3.7" lengthAdjust="spacingAndGlyphs">17</text>
<circle cx="287.3" cy="217.6" r="2.9" fill="none" stroke="#2e2e2e" stroke-width="0.95"/>
<text x="287.3" y="219.2" font-size="4.2" font-weight="700" text-anchor="middle" fill="#2e2e2e" textLength="3.7" lengthAdjust="spacingAndGlyphs">18</text>
<circle cx="303.2" cy="217.6" r="2.9" fill="none" stroke="#2e2e2e" stroke-width="0.95"/>
<text x="303.2" y="219.2" font-size="4.2" font-weight="700" text-anchor="middle" fill="#2e2e2e" textLength="3.7" lengthAdjust="spacingAndGlyphs">19</text>
<circle cx="319.1" cy="217.6" r="2.9" fill="none" stroke="#2e2e2e" stroke-width="0.95"/>
<text x="319.1" y="219.2" font-size="4.2" font-weight="700" text-anchor="middle" fill="#2e2e2e" textLength="3.7" lengthAdjust="spacingAndGlyphs">20</text>
<circle cx="335.0" cy="217.6" r="2.9" fill="none" stroke="#2e2e2e" stroke-width="0.95"/>
<text x="335.0" y="219.2" font-size="4.2" font-weight="700" text-anchor="middle" fill="#2e2e2e" textLength="3.7" lengthAdjust="spacingAndGlyphs">21</text>
<circle cx="350.9" cy="217.6" r="2.9" fill="none" stroke="#2e2e2e" stroke-width="0.95"/>
<text x="350.9" y="219.2" font-size="4.2" font-weight="700" text-anchor="middle" fill="#2e2e2e" textLength="3.7" lengthAdjust="spacingAndGlyphs">22</text>
<circle cx="366.8" cy="217.6" r="2.9" fill="none" stroke="#2e2e2e" stroke-width="0.95"/>
<text x="366.8" y="219.2" font-size="4.2" font-weight="700" text-anchor="middle" fill="#2e2e2e" textLength="3.7" lengthAdjust="spacingAndGlyphs">23</text>
<circle cx="382.7" cy="217.6" r="2.9" fill="none" stroke="#2e2e2e" stroke-width="0.95"/>
<text x="382.7" y="219.2" font-size="4.2" font-weight="700" text-anchor="middle" fill="#2e2e2e" textLength="3.7" lengthAdjust="spacingAndGlyphs">24</text>
<path d="M205.6,185.2 V190 M221.7,185.2 V190 M205.6,193.3 V194.3 M221.7,193.3 V194.3" fill="none" stroke="#2e2e2e" stroke-width="0.6"/>
<circle cx="205.6" cy="191.7" r="1.4" fill="#8a8a8a" stroke="#2e2e2e" stroke-width="0.4"/>
<circle cx="221.7" cy="191.7" r="1.4" fill="#8a8a8a" stroke="#2e2e2e" stroke-width="0.4"/>
<rect x="203.6" y="194.3" width="19.6" height="5.2" fill="#e4e4e4" stroke="#2e2e2e" stroke-width="0.6"/>
<text x="213.4" y="198.6" font-size="4.3" text-anchor="middle" fill="#2e2e2e" font-weight="700">交流输出</text>
<text x="216" y="205" font-size="4.3" text-anchor="middle" fill="#dd3b3b" font-weight="700">AC/DC</text>
<text x="216" y="209.3" font-size="4.3" text-anchor="middle" fill="#dd3b3b" font-weight="700">85~256V</text>
<path d="M208.8,214.6 L210.8,212 H220.7 L222.7,214.6" fill="none" stroke="#dd3b3b" stroke-width="0.7"/>
<circle cx="216" cy="212" r="1.3" fill="#f1f1f1" stroke="#dd3b3b" stroke-width="0.6"/>
<text transform="translate(236.6,199.5) rotate(-90)" font-size="4.4" fill="#2e2e2e" font-weight="700">DC24V</text>
<path d="M238.5,185.2 V200.4 H242" fill="none" stroke="#2e2e2e" stroke-width="0.6"/>
<rect x="242" y="198.4" width="23.6" height="4.2" fill="#dcdcdc" stroke="#2e2e2e" stroke-width="0.6"/>
<text x="253.8" y="201.9" font-size="3.6" text-anchor="middle" fill="#2e2e2e" font-weight="700">两线制变送器</text>
<path d="M265.6,200.4 H270.1 V185.2" fill="none" stroke="#2e2e2e" stroke-width="0.6"/>
<text x="241.6" y="189" font-size="4.4" fill="#2e2e2e" font-weight="700">GND</text>
<path d="M251,187.4 H270.1 M254.0,185.2 V190.2" fill="none" stroke="#2e2e2e" stroke-width="0.6"/>
<circle cx="254.0" cy="191.7" r="1.4" fill="#8a8a8a" stroke="#2e2e2e" stroke-width="0.4"/>
<circle cx="270.1" cy="191.7" r="1.4" fill="#8a8a8a" stroke="#2e2e2e" stroke-width="0.4"/>
<text x="261" y="196.6" font-size="3.9" text-anchor="middle" fill="#2e2e2e" font-weight="700">mA/mV</text>
<path d="M270.1,187.6 H283.6 M285.6,185.2 V187.6" fill="none" stroke="#2e2e2e" stroke-width="0.6"/>
<rect x="272" y="186.4" width="11" height="2.6" rx="1.2" fill="#f1f1f1" stroke="#2e2e2e" stroke-width="0.6"/>
<text x="277.6" y="193.3" font-size="3.9" text-anchor="middle" fill="#2e2e2e" font-weight="700">Pt100</text>
<path d="M302.4,185.2 V189.4" fill="none" stroke="#2e2e2e" stroke-width="0.6"/>
<circle cx="302.4" cy="190.9" r="1.4" fill="#8a8a8a" stroke="#2e2e2e" stroke-width="0.4"/>
<text x="302.8" y="199.2" font-size="5.6" text-anchor="middle" fill="#2e2e2e" font-weight="700">5V/10V</text>
<path d="M242.6,208.1 H303.2 M271.4,208.1 V214.6 M239.6,214.6 V212.6 L242.6,208.1 M255.5,214.6 V210.8 M287.3,214.6 V212.6 L285.3,210.0 M303.2,214.6 V208.1" fill="none" stroke="#2e2e2e" stroke-width="0.6"/>
<text x="247.4" y="207.3" font-size="4.6" text-anchor="middle" fill="#2e2e2e" font-weight="700">AL1</text>
<text x="268.8" y="207.3" font-size="4.6" text-anchor="middle" fill="#2e2e2e" font-weight="700">COM1</text>
<text x="293.2" y="207.3" font-size="4.6" text-anchor="middle" fill="#2e2e2e" font-weight="700">AL2</text>
<path d="M322.1,209.3 H382.7 M350.9,209.3 V214.6 M319.1,214.6 V213.2 L322.1,209.3 M335.0,214.6 V211.3 M366.8,214.6 V213.2 L364.8,210.6 M382.7,214.6 V209.3" fill="none" stroke="#2e2e2e" stroke-width="0.6"/>
<text x="326.6" y="208.5" font-size="4.6" text-anchor="middle" fill="#2e2e2e" font-weight="700">AL3</text>
<text x="349.6" y="208.5" font-size="4.6" text-anchor="middle" fill="#2e2e2e" font-weight="700">COM2</text>
<text x="374.8" y="208.5" font-size="4.6" text-anchor="middle" fill="#2e2e2e" font-weight="700">AL4</text>
</g>
</g>
<g id="wires" fill="none" stroke-linejoin="miter">
<path d="M247.9,86 V113.9 H236.6 V166" stroke="#e6252e" stroke-width="1.5"/>
<path d="M264.2,86 V113.9 H252.8 V166" stroke="#1b9be8" stroke-width="1.6" stroke-dasharray="1.1 0.8"/>
<path d="M279.3,86 V113.9 H268.3 V166" stroke="#231c1c" stroke-width="1.3"/>
<circle cx="247.9" cy="86" r="1.7" fill="#e6252e"/><circle cx="264.2" cy="85.6" r="1.7" fill="#1b9be8"/><circle cx="279.3" cy="85.6" r="1.7" fill="#231c1c"/>
<path d="M334.3,166 V95.7 H434" stroke="#18b2ee" stroke-width="1.5"/>
<path d="M349.2,166 V113.3 H428.5" stroke="#18b2ee" stroke-width="1.5"/>
<path d="M432.6,92.5 L439.8,95.7 L432.6,98.9 Z" fill="#18b2ee"/>
<path d="M427,110.1 L434.2,113.3 L427,116.5 Z" fill="#18b2ee"/>
<path d="M125.2,274.4 H409.6" stroke="#1b9be8" stroke-width="1.5"/>
<path d="M139,286 H423.4" stroke="#f5a524" stroke-width="2"/>
<path d="M148.4,297.8 H433" stroke="#8cc540" stroke-width="1.8"/>
<path d="M158,310.5 H442.5" stroke="#e6252e" stroke-width="1.5"/>
<path d="M207.9,231 V274.4" stroke="#1b9be8" stroke-width="1.5"/>
<path d="M223.7,231 V286" stroke="#f5a524" stroke-width="1.6"/>
<path d="M239,231 V321.3 H245.7 V336" stroke="#f5a524" stroke-width="1.1" stroke-dasharray="0.9 0.8"/>
<path d="M223.7,263.4 H270.8 V231" stroke="#f5a524" stroke-width="1.1" stroke-dasharray="0.9 0.8"/>
<path d="M247.9,274.4 V315.3 H258.4 V336" stroke="#1b9be8" stroke-width="1.6"/>
<path d="M256.3,274.4 V312.4 H264.6 V346" stroke="#1b9be8" stroke-width="1.3" stroke-dasharray="1 0.9"/>
<path d="M260.6,286 V338" stroke="#f5a524" stroke-width="1.7"/>
<path d="M268.4,297.6 V338" stroke="#8cc540" stroke-width="1.5"/>
<path d="M276.2,310.5 V341" stroke="#e6252e" stroke-width="1.5"/>
<path d="M286.8,231 V322.4 H315.5 V341" stroke="#1b9be8" stroke-width="1.5"/>
<path d="M297.2,274.4 V317.5 H331.9 V345" stroke="#1b9be8" stroke-width="1.3" stroke-dasharray="1 0.9"/>
<path d="M323.9,274.4 V336" stroke="#1b9be8" stroke-width="1.6"/>
<path d="M329,286 V337" stroke="#f5a524" stroke-width="1.7"/>
<circle cx="207.9" cy="274.4" r="2" fill="#1b9be8" stroke="none"/>
<circle cx="223.7" cy="263.4" r="2" fill="#f5a524" stroke="none"/>
<circle cx="223.7" cy="286" r="2" fill="#f5a524" stroke="none"/>
<circle cx="247.9" cy="274.4" r="2" fill="#1b9be8" stroke="none"/>
<circle cx="256.3" cy="274.4" r="2" fill="#1b9be8" stroke="none"/>
<circle cx="260.6" cy="286" r="2" fill="#f5a524" stroke="none"/>
<circle cx="268.4" cy="297.6" r="2" fill="#8cc540" stroke="none"/>
<circle cx="276.2" cy="310.5" r="2" fill="#e6252e" stroke="none"/>
<circle cx="297.2" cy="274.4" r="2" fill="#1b9be8" stroke="none"/>
<circle cx="323.9" cy="274.4" r="2" fill="#1b9be8" stroke="none"/>
<circle cx="329" cy="286" r="2" fill="#f5a524" stroke="none"/>
</g>
<g font-size="8.4" font-weight="700" fill="#1e1e1e" transform="scale(0.74 1)">
<text x="558.9" y="277.3">N</text>
<text x="574.6" y="288.3">A</text>
<text x="588.1" y="300.5">B</text>
<text x="601.4" y="313.7">C</text>
</g>
<text x="352.6" y="110.4" font-size="8" font-weight="300" fill="#6a6a6a" textLength="61" lengthAdjust="spacingAndGlyphs">4-20mA至中控室</text>
<g transform="translate(0 0) scale(1 1)">
<path d="M228.3,333 L230.4,330.9 L258.4,330.9 L270,333 L270,345 L240,345 L240,388 L228.3,384.6 Z" fill="#cacacc"/>
<path d="M228.3,333 H238.2 V388 L228.3,384.6 Z" fill="#b6b6b8"/>
<path d="M230.4,330.9 H258.4 L262,333.4 H228.3 Z" fill="#ececee"/>
<path d="M229.4,339 h5.6 v6 h-5.6 z M229.4,351 h5.6 v6 h-5.6 z M229.4,363 h5.6 v6 h-5.6 z M229.4,376 h5.6 v5 h-5.6 z" fill="#e9e9eb"/>
<path d="M235,339 v6 M235,351 v6 M235,363 v6 M235,376 v5" stroke="#9c9c9e" stroke-width="1"/>
<path d="M240,334.6 H268 V338.4 H240 Z" fill="#bcbcbe"/>
<rect x="252" y="332" width="9" height="4" fill="#e4e4e6"/>
<path d="M238,338.8 L243.5,335.7 L248.4,344.6 L248.4,400.2 L238,394.3 Z" fill="#58585a"/>
<rect x="241.6" y="358.4" width="2.2" height="7" fill="#2c2c2e"/>
<path d="M238.6,371 L247.8,375" stroke="#47474a" stroke-width="0.8"/>
<path d="M238,338.8 L243.5,335.7 L271,334.8 L282.6,343 L282.6,351.2 L248.4,351.2 L248.4,345 Z" fill="#464648"/>
<path d="M243.5,335.7 L271,334.8 L278,339.6 L249,341.4 Z" fill="#545456"/>
<rect x="252.6" y="343.4" width="4.6" height="6.6" rx="0.8" fill="#2a2a2c"/>
<rect x="259.6" y="343.4" width="4.6" height="6.6" rx="0.8" fill="#2a2a2c"/>
<rect x="266.5" y="343.4" width="4.6" height="6.6" rx="0.8" fill="#2a2a2c"/>
<rect x="273.4" y="343.4" width="4.6" height="6.6" rx="0.8" fill="#2a2a2c"/>
<path d="M248.4,351.2 H282.6 V398 L280.6,400.2 H248.4 Z" fill="#646466"/>
<rect x="248.4" y="351.2" width="34.2" height="1.7" fill="#c2383a"/>
<rect x="249.4" y="351.4" width="5" height="1.3" fill="#e8e8e8" opacity="0.7"/>
<rect x="252.1" y="353.6" width="5.6" height="8.6" rx="1" fill="#39393b"/>
<circle cx="254.9" cy="357.4" r="2.3" fill="#e4e4e6"/>
<path d="M254.9,356.4 v2" stroke="#4a4a4c" stroke-width="0.8"/>
<rect x="253.1" y="363.4" width="3.6" height="1.8" fill="#262628"/>
<rect x="251.2" y="367.6" width="6" height="23.4" rx="1" fill="#353537"/>
<rect x="251.8" y="369.4" width="4.2" height="9.6" fill="#d9d9db"/>
<rect x="254.8" y="369.4" width="1.2" height="9.6" fill="#a8a8aa"/>
<circle cx="253.8" cy="386.6" r="2.3" fill="#e4e4e6"/>
<path d="M253.8,385.6 v2" stroke="#4a4a4c" stroke-width="0.8"/>
<rect x="259.1" y="353.6" width="5.6" height="8.6" rx="1" fill="#39393b"/>
<circle cx="261.9" cy="357.4" r="2.3" fill="#e4e4e6"/>
<path d="M261.9,356.4 v2" stroke="#4a4a4c" stroke-width="0.8"/>
<rect x="260.1" y="363.4" width="3.6" height="1.8" fill="#262628"/>
<rect x="258.3" y="367.6" width="6" height="23.4" rx="1" fill="#353537"/>
<rect x="258.9" y="369.4" width="4.2" height="9.6" fill="#d9d9db"/>
<rect x="261.9" y="369.4" width="1.2" height="9.6" fill="#a8a8aa"/>
<circle cx="260.9" cy="386.6" r="2.3" fill="#e4e4e6"/>
<path d="M260.9,385.6 v2" stroke="#4a4a4c" stroke-width="0.8"/>
<rect x="266.0" y="353.6" width="5.6" height="8.6" rx="1" fill="#39393b"/>
<circle cx="268.8" cy="357.4" r="2.3" fill="#e4e4e6"/>
<path d="M268.8,356.4 v2" stroke="#4a4a4c" stroke-width="0.8"/>
<rect x="267.0" y="363.4" width="3.6" height="1.8" fill="#262628"/>
<rect x="265.4" y="367.6" width="6" height="23.4" rx="1" fill="#353537"/>
<rect x="266.0" y="369.4" width="4.2" height="9.6" fill="#d9d9db"/>
<rect x="269.0" y="369.4" width="1.2" height="9.6" fill="#a8a8aa"/>
<circle cx="268.0" cy="386.6" r="2.3" fill="#e4e4e6"/>
<path d="M268.0,385.6 v2" stroke="#4a4a4c" stroke-width="0.8"/>
<rect x="272.9" y="353.6" width="5.6" height="8.6" rx="1" fill="#39393b"/>
<circle cx="275.8" cy="357.4" r="2.3" fill="#e4e4e6"/>
<path d="M275.8,356.4 v2" stroke="#4a4a4c" stroke-width="0.8"/>
<rect x="273.9" y="363.4" width="3.6" height="1.8" fill="#262628"/>
<rect x="272.5" y="367.6" width="6" height="23.4" rx="1" fill="#353537"/>
<rect x="273.1" y="369.4" width="4.2" height="9.6" fill="#d9d9db"/>
<rect x="276.1" y="369.4" width="1.2" height="9.6" fill="#a8a8aa"/>
<circle cx="275.1" cy="386.6" r="2.3" fill="#e4e4e6"/>
<path d="M275.1,385.6 v2" stroke="#4a4a4c" stroke-width="0.8"/>
<rect x="254" y="394.4" width="24" height="2.2" fill="#4c4c4e"/>
</g>
<g transform="translate(67 13.8978) scale(1 0.958)">
<path d="M228.3,333 L230.4,330.9 L258.4,330.9 L270,333 L270,345 L240,345 L240,388 L228.3,384.6 Z" fill="#cacacc"/>
<path d="M228.3,333 H238.2 V388 L228.3,384.6 Z" fill="#b6b6b8"/>
<path d="M230.4,330.9 H258.4 L262,333.4 H228.3 Z" fill="#ececee"/>
<path d="M229.4,339 h5.6 v6 h-5.6 z M229.4,351 h5.6 v6 h-5.6 z M229.4,363 h5.6 v6 h-5.6 z M229.4,376 h5.6 v5 h-5.6 z" fill="#e9e9eb"/>
<path d="M235,339 v6 M235,351 v6 M235,363 v6 M235,376 v5" stroke="#9c9c9e" stroke-width="1"/>
<path d="M240,334.6 H268 V338.4 H240 Z" fill="#bcbcbe"/>
<rect x="252" y="332" width="9" height="4" fill="#e4e4e6"/>
<path d="M238,338.8 L243.5,335.7 L248.4,344.6 L248.4,400.2 L238,394.3 Z" fill="#58585a"/>
<rect x="241.6" y="358.4" width="2.2" height="7" fill="#2c2c2e"/>
<path d="M238.6,371 L247.8,375" stroke="#47474a" stroke-width="0.8"/>
<path d="M238,338.8 L243.5,335.7 L271,334.8 L282.6,343 L282.6,351.2 L248.4,351.2 L248.4,345 Z" fill="#464648"/>
<path d="M243.5,335.7 L271,334.8 L278,339.6 L249,341.4 Z" fill="#545456"/>
<rect x="252.6" y="343.4" width="4.6" height="6.6" rx="0.8" fill="#2a2a2c"/>
<rect x="259.6" y="343.4" width="4.6" height="6.6" rx="0.8" fill="#2a2a2c"/>
<rect x="266.5" y="343.4" width="4.6" height="6.6" rx="0.8" fill="#2a2a2c"/>
<rect x="273.4" y="343.4" width="4.6" height="6.6" rx="0.8" fill="#2a2a2c"/>
<path d="M248.4,351.2 H282.6 V398 L280.6,400.2 H248.4 Z" fill="#646466"/>
<rect x="248.4" y="351.2" width="34.2" height="1.7" fill="#c2383a"/>
<rect x="249.4" y="351.4" width="5" height="1.3" fill="#e8e8e8" opacity="0.7"/>
<rect x="252.1" y="353.6" width="5.6" height="8.6" rx="1" fill="#39393b"/>
<circle cx="254.9" cy="357.4" r="2.3" fill="#e4e4e6"/>
<path d="M254.9,356.4 v2" stroke="#4a4a4c" stroke-width="0.8"/>
<rect x="253.1" y="363.4" width="3.6" height="1.8" fill="#262628"/>
<rect x="251.2" y="367.6" width="6" height="23.4" rx="1" fill="#353537"/>
<rect x="251.8" y="369.4" width="4.2" height="9.6" fill="#d9d9db"/>
<rect x="254.8" y="369.4" width="1.2" height="9.6" fill="#a8a8aa"/>
<circle cx="253.8" cy="386.6" r="2.3" fill="#e4e4e6"/>
<path d="M253.8,385.6 v2" stroke="#4a4a4c" stroke-width="0.8"/>
<rect x="259.1" y="353.6" width="5.6" height="8.6" rx="1" fill="#39393b"/>
<circle cx="261.9" cy="357.4" r="2.3" fill="#e4e4e6"/>
<path d="M261.9,356.4 v2" stroke="#4a4a4c" stroke-width="0.8"/>
<rect x="260.1" y="363.4" width="3.6" height="1.8" fill="#262628"/>
<rect x="258.3" y="367.6" width="6" height="23.4" rx="1" fill="#353537"/>
<rect x="258.9" y="369.4" width="4.2" height="9.6" fill="#d9d9db"/>
<rect x="261.9" y="369.4" width="1.2" height="9.6" fill="#a8a8aa"/>
<circle cx="260.9" cy="386.6" r="2.3" fill="#e4e4e6"/>
<path d="M260.9,385.6 v2" stroke="#4a4a4c" stroke-width="0.8"/>
<rect x="266.0" y="353.6" width="5.6" height="8.6" rx="1" fill="#39393b"/>
<circle cx="268.8" cy="357.4" r="2.3" fill="#e4e4e6"/>
<path d="M268.8,356.4 v2" stroke="#4a4a4c" stroke-width="0.8"/>
<rect x="267.0" y="363.4" width="3.6" height="1.8" fill="#262628"/>
<rect x="265.4" y="367.6" width="6" height="23.4" rx="1" fill="#353537"/>
<rect x="266.0" y="369.4" width="4.2" height="9.6" fill="#d9d9db"/>
<rect x="269.0" y="369.4" width="1.2" height="9.6" fill="#a8a8aa"/>
<circle cx="268.0" cy="386.6" r="2.3" fill="#e4e4e6"/>
<path d="M268.0,385.6 v2" stroke="#4a4a4c" stroke-width="0.8"/>
<rect x="272.9" y="353.6" width="5.6" height="8.6" rx="1" fill="#39393b"/>
<circle cx="275.8" cy="357.4" r="2.3" fill="#e4e4e6"/>
<path d="M275.8,356.4 v2" stroke="#4a4a4c" stroke-width="0.8"/>
<rect x="273.9" y="363.4" width="3.6" height="1.8" fill="#262628"/>
<rect x="272.5" y="367.6" width="6" height="23.4" rx="1" fill="#353537"/>
<rect x="273.1" y="369.4" width="4.2" height="9.6" fill="#d9d9db"/>
<rect x="276.1" y="369.4" width="1.2" height="9.6" fill="#a8a8aa"/>
<circle cx="275.1" cy="386.6" r="2.3" fill="#e4e4e6"/>
<path d="M275.1,385.6 v2" stroke="#4a4a4c" stroke-width="0.8"/>
<rect x="254" y="394.4" width="24" height="2.2" fill="#4c4c4e"/>
</g>
<g fill="none">
<path d="M245.7,328 V338.8" stroke="#f5a524" stroke-width="1.1" stroke-dasharray="0.9 0.8"/>
<path d="M264.6,330 V343.6" stroke="#1b9be8" stroke-width="1.4" stroke-dasharray="1 0.9"/>
<path d="M331.9,330 V343" stroke="#1b9be8" stroke-width="1.4" stroke-dasharray="1 0.9"/>
<path d="M315.4,328 V341" stroke="#1b9be8" stroke-width="1.5"/>
<path d="M276.2,328 V339.6" stroke="#e6252e" stroke-width="1.5"/>
<circle cx="264.6" cy="343.8" r="1.3" fill="#e8e8ea" stroke="#555" stroke-width="0.4"/>
<circle cx="331.9" cy="343" r="1.3" fill="#e8e8ea" stroke="#555" stroke-width="0.4"/>
</g>
</svg></body></html>
